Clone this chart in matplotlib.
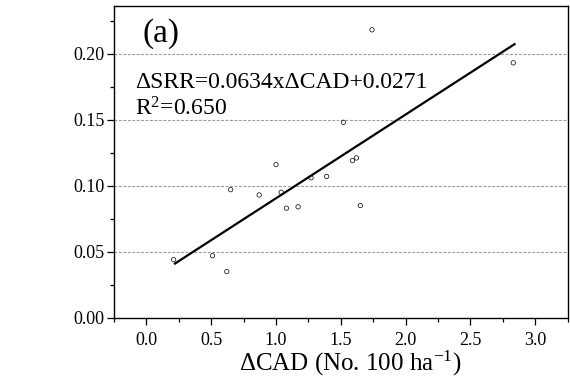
import matplotlib
matplotlib.use("Agg")
import matplotlib.pyplot as plt
import numpy as np
from matplotlib.ticker import MultipleLocator, FormatStrFormatter

# data
cad = [0.21, 0.51, 0.62, 0.65, 0.87, 1.00, 1.04, 1.08, 1.17, 1.27, 1.39, 1.52,
       1.59, 1.62, 1.65, 1.74, 2.83]
srr = [0.044, 0.047, 0.035, 0.097, 0.093, 0.116, 0.095, 0.083, 0.084, 0.106,
       0.107, 0.148, 0.119, 0.121, 0.085, 0.218, 0.193]
slope, icpt = 0.0634, 0.0271
r2 = 0.650
fit_x = [0.22, 2.84]

plt.rcParams["font.family"] = ["Liberation Serif", "DejaVu Serif"]
plt.rcParams["mathtext.fontset"] = "custom"
plt.rcParams["mathtext.rm"] = "Liberation Serif"
plt.rcParams["mathtext.it"] = "Liberation Serif:italic"

fig = plt.figure(figsize=(5.7, 3.77), dpi=100)
ax = fig.add_axes([0.2, 0.157, 0.796, 0.827])

for y in (0.05, 0.10, 0.15, 0.20):
    ax.axhline(y, color="#999999", ls=(0, (2.5, 1.5)), lw=0.8, zorder=0)

ax.scatter(cad, srr, s=10, facecolors="none", edgecolors="black", linewidths=0.5, zorder=3)
fx = np.array(fit_x)
ax.plot(fx, slope * fx + icpt, color="black", lw=1.6, zorder=2)

ax.set_xlim(-0.25, 3.25)
ax.set_ylim(0, 0.236)
ax.xaxis.set_major_locator(MultipleLocator(0.5))
ax.xaxis.set_minor_locator(MultipleLocator(0.25))
ax.yaxis.set_major_locator(MultipleLocator(0.05))
ax.yaxis.set_minor_locator(MultipleLocator(0.025))
ax.xaxis.set_major_formatter(FormatStrFormatter("%.1f"))
ax.yaxis.set_major_formatter(FormatStrFormatter("%.2f"))
ax.tick_params(which="major", direction="out", length=5, width=0.9, labelsize=13, color="black")
ax.tick_params(which="minor", direction="out", length=3, width=0.9, color="black")
ax.tick_params(axis="x", which="both", top=False, pad=5)
ax.tick_params(axis="y", which="both", right=False, pad=2)

for side in ("left", "top", "right"):
    ax.spines[side].set_linewidth(1.0)
ax.spines["bottom"].set_linestyle((0, (2, 1)))
ax.spines["bottom"].set_linewidth(1.0)

ax.text(0.062, 0.884, "(a)", transform=ax.transAxes, fontsize=24, va="baseline", ha="left")
ax.text(0.046, 0.737, "\u0394SRR=0.0634x\u0394CAD+0.0271", transform=ax.transAxes,
        fontsize=17, va="baseline", ha="left")
ax.text(0.046, 0.650, "R$^{2}$=0.650", transform=ax.transAxes,
        fontsize=17, va="baseline", ha="left")

ax.set_xlabel("\u0394CAD (No. 100 ha$^{\\mathrm{-1}}$)", fontsize=18, labelpad=1)
ax.xaxis.set_label_coords(0.52, -0.1)

fig.savefig("out.png", dpi=100)
